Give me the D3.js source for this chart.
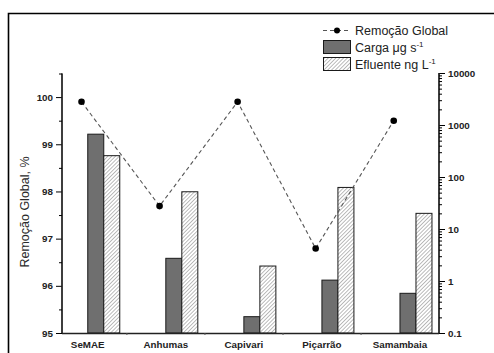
<!DOCTYPE html>
<html>
<head>
<meta charset="utf-8">
<script src="https://cdn.jsdelivr.net/npm/d3@7"></script>
<style>
  html, body { margin: 0; padding: 0; background: #fff; }
  svg { display: block; font-family: "Liberation Sans", Arial, sans-serif; }
</style>
</head>
<body>
<svg id="chart" width="494" height="353"></svg>
<script>
// Sampling sites along the x axis
const sites = ["SeMAE", "Anhumas", "Capivari", "Piçarrão", "Samambaia"];
// Global removal (%), left axis
const remocao = [99.9, 97.69, 99.9, 96.79, 99.5];
// Load (µg s-1), right log axis
const carga = [666, 2.73, 0.206, 1.04, 0.58];
// Effluent concentration (ng L-1), right log axis
const efluente = [257, 52, 1.94, 63, 20];
// Axis tick labels
const leftTicks = [95, 96, 97, 98, 99, 100];
const rightTicks = [0.1, 1, 10, 100, 1000, 10000];

const svg = d3.select("#chart");

// Outer frame (top and left edges)
svg.append("path")
  .attr("d", "M8.5,354 L8.5,13.5 L494,13.5")
  .attr("fill", "none").attr("stroke", "#000").attr("stroke-width", 1.6);

const x = d3.scaleLinear().domain([0.75, 5.58]).range([62, 439]);
const yL = d3.scaleLinear().domain([95, 100.5]).range([333, 73.5]);
const yR = d3.scaleLog().domain([0.1, 10000]).range([333, 73]);

// Hatch pattern for effluent bars
const defs = svg.append("defs");
const hs = 2.7;
const pat = defs.append("pattern")
  .attr("id", "hatch").attr("patternUnits", "userSpaceOnUse")
  .attr("width", hs).attr("height", hs)
  .attr("patternTransform", "rotate(45)");
pat.append("rect").attr("width", hs).attr("height", hs).attr("fill", "#fff");
pat.append("line").attr("x1", 0).attr("y1", 0).attr("x2", 0).attr("y2", hs)
  .attr("stroke", "#7a7a7a").attr("stroke-width", 1);

const barW = 0.205;
const g = svg.append("g");

// Load bars (solid grey)
g.selectAll("rect.carga").data(carga).join("rect")
  .attr("class", "carga")
  .attr("x", (d, i) => x(i + 1 + 0.08))
  .attr("width", (d, i) => x(i + 1 + 0.08 + barW) - x(i + 1 + 0.08))
  .attr("y", d => yR(d))
  .attr("height", d => yR(0.1) - yR(d))
  .attr("fill", "#6f6f6f").attr("stroke", "#1a1a1a").attr("stroke-width", 1);

// Effluent bars (hatched)
g.selectAll("rect.eflu").data(efluente).join("rect")
  .attr("class", "eflu")
  .attr("x", (d, i) => x(i + 1 + 0.08 + barW))
  .attr("width", (d, i) => x(i + 1 + 0.08 + 2 * barW) - x(i + 1 + 0.08 + barW))
  .attr("y", d => yR(d))
  .attr("height", d => yR(0.1) - yR(d))
  .attr("fill", "url(#hatch)").attr("stroke", "#1a1a1a").attr("stroke-width", 1);

// Removal line (dashed) with markers
const line = d3.line().x((d, i) => x(i + 1)).y(d => yL(d));
g.append("path").datum(remocao)
  .attr("d", line).attr("fill", "none")
  .attr("stroke", "#555").attr("stroke-width", 1.1)
  .attr("stroke-dasharray", "4,3");
g.selectAll("circle.pt").data(remocao).join("circle")
  .attr("class", "pt")
  .attr("cx", (d, i) => x(i + 1)).attr("cy", d => yL(d))
  .attr("r", 3.3).attr("fill", "#000");

// Left axis
const axL = svg.append("g").attr("transform", "translate(62,0)");
axL.call(d3.axisLeft(yL).tickValues(leftTicks).tickSize(6).tickPadding(3)
  .tickFormat(d3.format("d")));
axL.append("g").call(d3.axisLeft(yL).tickValues([95.5, 96.5, 97.5, 98.5, 99.5, 100.5])
  .tickSize(3).tickFormat(""));

// Right axis (log)
const minor = [];
for (let e = -1; e < 4; e++) for (let m = 2; m <= 9; m++) minor.push(m * Math.pow(10, e));
const axR = svg.append("g").attr("transform", "translate(439,0)");
axR.call(d3.axisRight(yR).tickValues(rightTicks).tickSize(6).tickPadding(3)
  .tickFormat(d => d < 1 ? "0.1" : d3.format("d")(d)));
axR.append("g").call(d3.axisRight(yR).tickValues(minor).tickSize(3).tickFormat(""));

// Bottom axis
const axB = svg.append("g").attr("transform", "translate(0,333)");
axB.call(d3.axisBottom(x).tickValues([1.575, 2.575, 3.575, 4.575]).tickSize(2).tickFormat(""));
axB.selectAll(".tick line").attr("stroke", "#555");
axB.selectAll("text.site").data(sites).join("text")
  .attr("class", "site")
  .attr("x", (d, i) => x(i + 1.08)).attr("y", 14.5)
  .attr("text-anchor", "middle")
  .attr("font-size", 9.8).attr("font-weight", "bold").attr("fill", "#222")
  .text(d => d);

[axL, axR, axB].forEach(a => {
  a.selectAll(".domain").attr("stroke", "#222").attr("stroke-width", 1.3);
  a.selectAll(".tick line").attr("stroke-width", 1);
  a.selectAll(".tick text").attr("font-size", 9.8).attr("font-weight", "bold")
    .attr("fill", "#222").attr("font-family", "Liberation Sans, Arial, sans-serif");
});
axB.selectAll(".domain").attr("d", "M62,0.5H439");
axL.selectAll(".domain").attr("d", "M0,73.5V333");
axR.selectAll(".domain").attr("d", "M0,73V333");

// Left axis title
svg.append("text")
  .attr("transform", "translate(29,212) rotate(-90)")
  .attr("text-anchor", "middle").attr("font-size", 12.5).attr("fill", "#2a2a2a")
  .text("Remoção Global, %");

// Legend
const lg = svg.append("g").attr("font-size", 12.5).attr("fill", "#222");
lg.append("line").attr("x1", 323).attr("x2", 351).attr("y1", 30.5).attr("y2", 30.5)
  .attr("stroke", "#555").attr("stroke-width", 1.1).attr("stroke-dasharray", "4,3");
lg.append("circle").attr("cx", 337).attr("cy", 30.5).attr("r", 3).attr("fill", "#000");
lg.append("text").attr("x", 355).attr("y", 35).text("Remoção Global");

lg.append("rect").attr("x", 323.5).attr("y", 40.5).attr("width", 27).attr("height", 13)
  .attr("fill", "#6f6f6f").attr("stroke", "#1a1a1a");
const t2 = lg.append("text").attr("x", 355).attr("y", 52);
t2.append("tspan").text("Carga μg s");
t2.append("tspan").attr("dy", -5).attr("font-size", 8).text("-1");

lg.append("rect").attr("x", 323.5).attr("y", 57.5).attr("width", 27).attr("height", 13)
  .attr("fill", "url(#hatch)").attr("stroke", "#1a1a1a");
const t3 = lg.append("text").attr("x", 355).attr("y", 69);
t3.append("tspan").text("Efluente ng L");
t3.append("tspan").attr("dy", -5).attr("font-size", 8).text("-1");
</script>
</body>
</html>
